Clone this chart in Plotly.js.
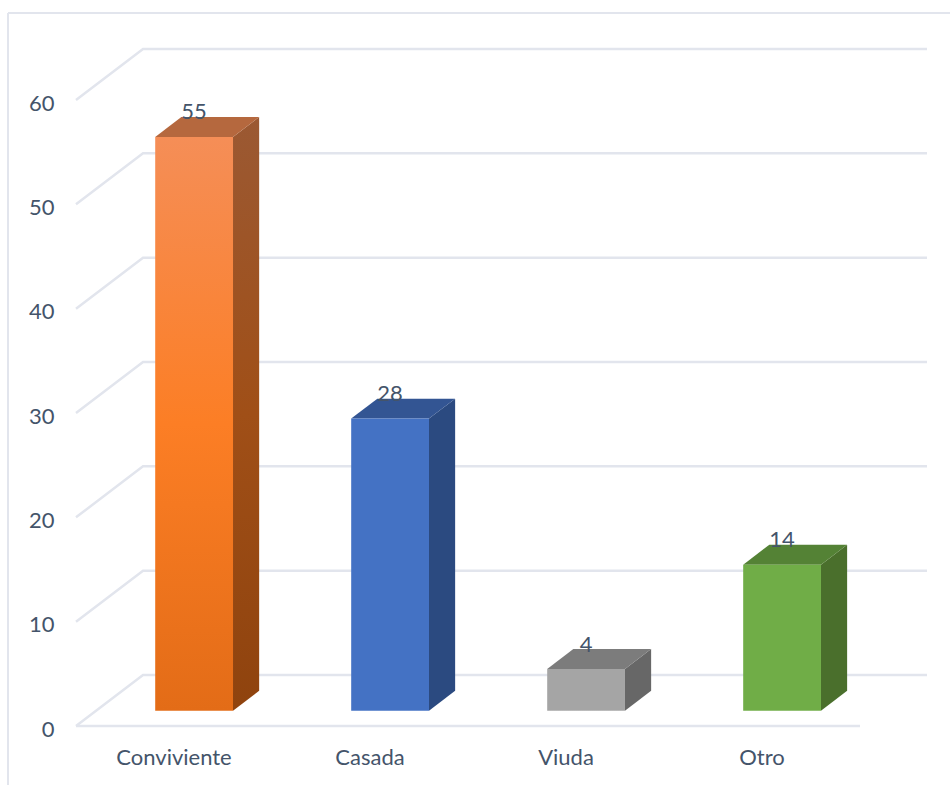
<!DOCTYPE html>
<html>
<head>
<meta charset="utf-8">
<script src="https://cdn.plot.ly/plotly-3.0.1.min.js"></script>
<style>html,body{margin:0;padding:0;background:#fff}#chart{width:950px;height:785px}</style>
</head>
<body>
<div id="chart"></div>
<script>
// Survey counts by marital status
const categories = ["Conviviente", "Casada", "Viuda", "Otro"];
const values = [55, 28, 4, 14];
const valueTicks = [0, 10, 20, 30, 40, 50, 60];

// Face colours of each column, listed bottom to top
const frontStops = [
  [[0, "#e36c17"], [0.5, "#fc7e25"], [1, "#f58e57"]],
  [[0, "#4472c4"], [1, "#4472c4"]],
  [[0, "#a5a5a5"], [1, "#a5a5a5"]],
  [[0, "#70ad47"], [1, "#70ad47"]]
];
const sideStops = [
  [[0, "#8f430e"], [0.5, "#a04f17"], [1, "#9b5933"]],
  [[0, "#2b4a80"], [1, "#2b4a80"]],
  [[0, "#676767"], [1, "#676767"]],
  [[0, "#4a6f2c"], [1, "#4a6f2c"]]
];
const topColors = ["#b5683e", "#335593", "#7c7c7c", "#548235"];

// Oblique projection: a point at depth d (0 front, 1 back) is shifted right and up
const depthX = 0.342;
const depthY = 4.89;
const barWidth = 0.397;
const barDepthNear = 0.30;
const barDepthFar = 0.69;
const labelLift = 2.2;
const gridColor = "#e2e5ed";
const textColor = "#44546a";
const fontFamily = "Lato, 'Open Sans', sans-serif";
const fontSize = 22;

const project = (x, v, d) => [x + d * depthX, v + d * depthY];

function polygon(points, extra) {
  const pts = points.concat([points[0]]);
  return Object.assign({
    type: "scatter", mode: "lines", fill: "toself", hoverinfo: "skip", showlegend: false,
    x: pts.map(p => p[0]), y: pts.map(p => p[1]), line: {width: 0}
  }, extra);
}

// Walls and floor of the box
const gridX = [], gridY = [];
const nCats = categories.length;
valueTicks.forEach(v => {
  const a = project(0, v, 0), b = project(0, v, 1), c = project(nCats, v, 1);
  gridX.push(a[0], b[0], c[0], null);
  gridY.push(a[1], b[1], c[1], null);
});
gridX.push(0, nCats);
gridY.push(0, 0);

const traces = [{
  type: "scatter", mode: "lines", x: gridX, y: gridY, hoverinfo: "skip", showlegend: false,
  line: {color: gridColor, width: 2.5}, connectgaps: false
}];

categories.forEach((name, i) => {
  const x0 = i + 0.5 - barWidth / 2, x1 = x0 + barWidth, v = values[i];
  const n = barDepthNear, f = barDepthFar;
  traces.push(polygon(
    [project(x1, 0, n), project(x1, 0, f), project(x1, v, f), project(x1, v, n)],
    {fillgradient: {type: "vertical", colorscale: sideStops[i]}, name: name + " side"}
  ));
  traces.push(polygon(
    [project(x0, v, n), project(x1, v, n), project(x1, v, f), project(x0, v, f)],
    {fillcolor: topColors[i], name: name + " top"}
  ));
  traces.push(polygon(
    [project(x0, 0, n), project(x1, 0, n), project(x1, v, n), project(x0, v, n)],
    {fillgradient: {type: "vertical", colorscale: frontStops[i]}, name: name}
  ));
});

// Value labels sit just above the front edge of each column
const labelPoints = values.map((v, i) => project(i + 0.5, v + labelLift, barDepthNear));
traces.push({
  type: "scatter", mode: "text", hoverinfo: "skip", showlegend: false, cliponaxis: false,
  x: labelPoints.map(p => p[0]), y: labelPoints.map(p => p[1]),
  text: values.map(String), textposition: "middle center",
  textfont: {family: fontFamily, size: fontSize, color: textColor}
});

// A few pixels of slack around the box keep its edge lines from being clipped
const slack = 4, catPx = 196, unitPx = 10.43;
const L = 76 - slack, R = 23 - slack, T = 49 - slack, B = 59 - slack, W = 950, H = 785;
const plotW = W - L - R, plotH = H - T - B;
const px = p => (p - L) / plotW;
const py = p => (H - B - p) / plotH;

const layout = {
  width: W, height: H, margin: {l: L, r: R, t: T, b: B, pad: 0},
  paper_bgcolor: "#fff", plot_bgcolor: "rgba(0,0,0,0)", showlegend: false,
  font: {family: fontFamily, size: fontSize, color: textColor},
  xaxis: {
    range: [-slack / catPx, nCats + depthX + slack / catPx], tickmode: "array",
    tickvals: categories.map((c, i) => i + 0.5), ticktext: categories,
    showgrid: false, zeroline: false, showline: false,
    ticks: "outside", ticklen: 8, tickcolor: "rgba(0,0,0,0)",
    tickfont: {family: fontFamily, size: fontSize, color: textColor}
  },
  yaxis: {
    range: [-slack / unitPx, 60 + depthY + slack / unitPx], tickmode: "array",
    tickvals: valueTicks, ticktext: valueTicks.map(String),
    showgrid: false, zeroline: false, showline: false,
    ticks: "outside", ticklen: 12, tickcolor: "rgba(0,0,0,0)", ticklabelshift: 3,
    tickfont: {family: fontFamily, size: fontSize, color: textColor}
  },
  // Outer chart frame, open on the right and bottom
  shapes: [
    {type: "line", xref: "paper", yref: "paper", x0: px(8), x1: px(8), y0: py(785), y1: py(13), line: {color: gridColor, width: 2}, layer: "below"},
    {type: "line", xref: "paper", yref: "paper", x0: px(8), x1: px(950), y0: py(13), y1: py(13), line: {color: gridColor, width: 2}, layer: "below"}
  ]
};

Plotly.newPlot("chart", traces, layout, {displayModeBar: false, staticPlot: true});
</script>
</body>
</html>
